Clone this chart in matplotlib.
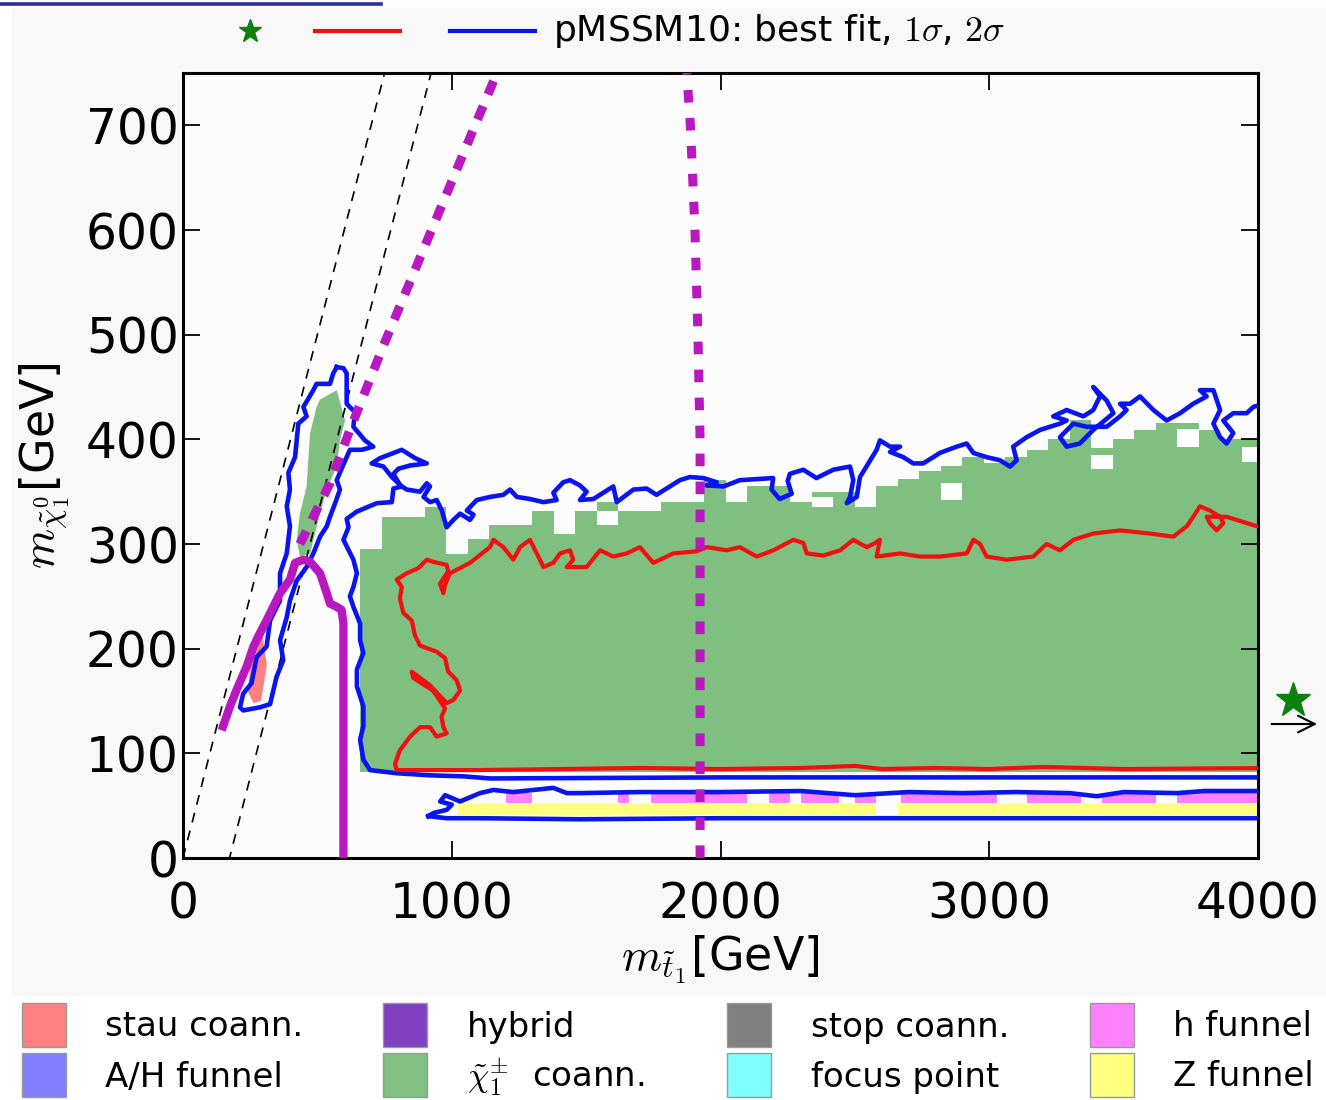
import numpy as np
import matplotlib.pyplot as plt
from matplotlib.patches import Rectangle, Polygon
from matplotlib.lines import Line2D

plt.rcParams['font.family'] = ['DejaVu Sans']
plt.rcParams['mathtext.fontset'] = 'cm'

# chargino coannihilation cells: 80 GeV columns, top edge of each column
green_x0 = np.arange(660, 4000, 80)
green_top = [295, 326, 326, 335, 290, 305, 318, 318, 332, 310, 332, 340, 332, 332,
             340, 340, 361, 340, 355, 355, 340, 350, 350, 335, 355, 362, 370, 375,
             383, 377, 383, 390, 400, 418, 392, 400, 409, 416, 416, 409, 400, 400]
green_bottom = 82
# empty cells inside the green area (x start, y low, y high)
hole_x = [1540, 2820, 3380, 3700, 3940, 2340]
hole_lo = [318, 342, 372, 393, 378, 335]
hole_hi = [332, 358, 385, 410, 393, 345]

# narrow green strip along the stop-neutralino diagonal
strip_x = [510, 572, 603, 584, 572, 535, 510, 485, 473, 435, 423, 435, 460, 466, 473, 497]
strip_y = [438, 447, 418, 399, 374, 352, 329, 304, 291, 288, 304, 329, 355, 380, 406, 431]

# stau coannihilation patch
stau_x = [262, 292, 302, 312, 300, 290, 262, 240, 250, 245]
stau_y = [212, 226, 200, 185, 165, 150, 148, 160, 180, 195]

# h funnel and Z funnel bands
hfun_x0 = [1200, 1620, 1740, 2180, 2300, 2500, 2670, 3140, 3420, 3700]
hfun_x1 = [1300, 1660, 2100, 2260, 2440, 2580, 3030, 3340, 3620, 4000]
zfun_x0 = [1020, 2660]
zfun_x1 = [2580, 4000]

# 2 sigma contour around the diagonal strip
blueA_x = [572, 597, 609, 609, 640, 634, 677, 708, 665, 621, 597, 572, 584, 566, 547, 535,
           510, 485, 460, 423, 398, 386, 361, 373, 348, 324, 287, 224, 212, 224, 255, 274,
           311, 324, 361, 361, 386, 398, 386, 398, 392, 417, 429, 460, 448, 485, 497, 547,
           559, 572]
blueA_y = [469, 468, 463, 434, 426, 412, 399, 393, 390, 390, 376, 361, 352, 339, 326, 317,
           307, 291, 278, 265, 246, 230, 208, 189, 173, 147, 144, 141, 144, 157, 167, 192,
           202, 227, 246, 272, 291, 317, 336, 352, 368, 383, 415, 422, 431, 447, 453, 453,
           463, 469]

# 2 sigma contour of the large region
blueB_x = [4050, 4000, 3000, 2000, 1143, 1043, 919, 795, 696, 671, 659, 671, 671, 647, 647,
           671, 659, 659, 634, 621, 634, 647, 634, 597, 616, 609, 647, 721, 777, 783, 814,
           777, 746, 702, 733, 814, 864, 907, 845, 802, 783, 808, 833, 882, 907, 919, 895,
           919, 944, 963, 981, 1006, 1031, 1068, 1081, 1056, 1093, 1143, 1192, 1217, 1242,
           1291, 1341, 1390, 1378, 1415, 1440, 1477, 1502, 1477, 1527, 1601, 1614, 1676,
           1725, 1762, 1812, 1849, 1886, 1936, 1986, 1948, 2011, 2072, 2196, 2190, 2220,
           2265, 2250, 2258, 2308, 2357, 2420, 2482, 2494, 2482, 2470, 2507, 2519, 2581,
           2593, 2631, 2668, 2631, 2680, 2717, 2754, 2792, 2816, 2879, 2916, 2941, 2990,
           3040, 3077, 3102, 3089, 3139, 3189, 3263, 3288, 3238, 3288, 3350, 3387, 3412,
           3387, 3437, 3462, 3387, 3337, 3288, 3263, 3313, 3362, 3437, 3487, 3511, 3487,
           3524, 3561, 3611, 3660, 3710, 3759, 3809, 3784, 3834, 3859, 3834, 3859, 3883,
           3908, 3871, 3908, 3958, 3983, 4050]
blueB_y = [77, 77, 77, 77, 76, 78, 79, 81, 84, 94, 113, 126, 145, 164, 180,
           196, 208, 224, 240, 250, 259, 272, 285, 304, 316, 324, 331, 339, 340, 353, 355,
           364, 374, 377, 382, 390, 382, 377, 375, 372, 367, 356, 352, 350, 358, 355, 345,
           340, 342, 332, 316, 323, 329, 323, 328, 332, 342, 345, 347, 352, 345,
           343, 340, 342, 349, 359, 361, 356, 350, 342, 343, 355, 340, 352,
           353, 347, 355, 361, 364, 363, 359, 356, 355, 361, 363, 352, 343,
           348, 360, 367, 371, 363, 371, 374, 361, 345, 339, 345, 364, 390,
           399, 393, 393, 388, 383, 377, 377, 383, 387, 393, 396, 387, 383,
           380, 374, 380, 393, 402, 409, 415, 418, 422, 428, 422, 428, 441,
           450, 437, 425, 409, 396, 393, 402, 415, 412, 412, 422, 428, 434,
           434, 441, 428, 418, 425, 434, 441, 447, 447, 428, 415, 402, 396,
           406, 418, 425, 425, 431, 436]

# 2 sigma contour of the low-mass funnel band
blueC_x = [913, 932, 981, 1000, 957, 975, 1031, 1105, 1155, 1229, 1378, 1428, 1477, 1700,
           2000, 2300, 2500, 2700, 2900, 3100, 3300, 3400, 3500, 3700, 3800, 4050,
           4050, 3000, 2000, 1477, 1105, 981, 913]
blueC_y = [40, 43, 46, 51, 54, 60, 54, 62, 65, 63, 67, 62, 62, 63,
           63, 64, 60, 63, 62, 63, 62, 59, 63, 62, 64, 64,
           38, 38, 38, 37, 38, 38, 40]

# 1 sigma contour
red_x = [4050, 3995, 3958, 3883, 3809, 3821, 3846, 3871, 3859, 3821, 3784, 3759, 3735, 3685,
         3598, 3486, 3387, 3313, 3263, 3213, 3164, 3065, 2990, 2966, 2941, 2916, 2816, 2742,
         2668, 2581, 2593, 2569, 2544, 2494, 2445, 2383, 2321, 2308, 2271, 2197, 2135, 2072,
         2023, 1949, 1911, 1824, 1800, 1750, 1700, 1651, 1601, 1552, 1502, 1428, 1452, 1440,
         1403, 1378, 1341, 1328, 1291, 1254, 1229, 1192, 1155, 1142, 1068, 993, 975, 969,
         956, 987, 981, 931, 907, 876, 832, 795, 814, 807, 820, 851, 863, 882, 944, 975,
         987, 1018, 1031, 1006, 981, 919, 851, 857, 930, 975, 962, 969, 981, 944, 919, 882,
         845, 807, 789, 795, 919, 1105, 1400, 1700, 2000, 2300, 2500, 2600, 2800, 3000,
         3200, 3500, 4050]
red_y = [315, 317, 320, 326, 326, 320, 313, 320, 326, 332, 336, 326, 317, 307,
         310, 313, 310, 304, 294, 300, 288, 285, 288, 300, 304, 291, 288, 288,
         291, 288, 304, 300, 297, 304, 294, 289, 291, 301, 304, 294, 288, 297,
         294, 297, 293, 291, 288, 282, 297, 291, 288, 294, 278, 278, 285, 294,
         291, 282, 278, 285, 304, 297, 285, 297, 304, 297, 282, 272, 261, 253,
         262, 274, 280, 283, 285, 277, 272, 266, 259, 248, 234, 227, 213, 203, 197, 191,
         178, 170, 160, 151, 148, 165, 178, 172, 160, 143, 135, 125, 119, 116, 125, 125,
         116, 103, 90, 84, 84, 84, 85, 86, 85, 86, 88, 85, 86, 85,
         87, 85, 86]

# magenta constraint lines
mag_solid_x = [144, 175, 200, 237, 262, 299, 336, 361, 398, 417, 448, 473, 510, 535, 547,
               572, 590, 597, 597]
mag_solid_y = [122, 145, 161, 183, 202, 221, 240, 253, 266, 282, 285, 283, 272, 253, 243,
               240, 237, 224, 0]
mag_diag_x = [435, 547, 621, 745, 1168, 1200]
mag_diag_y = [300, 358, 409, 489, 750, 770]
mag_vert_x = [1924, 1924, 1916, 1905, 1888, 1872]
mag_vert_y = [0, 400, 500, 600, 700, 760]

# kinematic lines m_stop = m_chi + offset
kin_offset = [0, 173]

# best fit point (beyond the plotted range)
best_x, best_y = 4130, 151

legend_labels = ['stau coann.', 'A/H funnel', 'hybrid', r'$\tilde{\chi}_1^{\pm}$  coann.',
                 'stop coann.', 'focus point', 'h funnel', 'Z funnel']
legend_colors = ['#ff8080', '#8080ff', '#8040c0', '#80c080',
                 '#808080', '#80ffff', '#ff80ff', '#ffff80']

W, H = 1326, 1100
fig = plt.figure(figsize=(W / 100, H / 100), dpi=100)
fig.patch.set_facecolor('white')
fig.add_artist(Rectangle((12 / W, 1 - 995 / H), 1 - 12 / W, (995 - 8) / H,
                         transform=fig.transFigure, color='#f8f8f8', zorder=-10))
fig.add_artist(Line2D([0, 381 / W], [1 - 3.5 / H] * 2, color='#2d3092', lw=2.6))

ax = fig.add_axes([183 / W, 242 / H, 1075 / W, 785 / H])
ax.set_facecolor('#fcfcfc')

green = '#7fbf7f'
ax.bar(green_x0, np.array(green_top) - green_bottom, bottom=green_bottom, width=80,
       align='edge', color=green, linewidth=0, zorder=1)
ax.bar(hole_x, np.array(hole_hi) - np.array(hole_lo), bottom=hole_lo, width=80,
       align='edge', color='white', linewidth=0, zorder=1.1)
ax.add_patch(Polygon(np.column_stack([strip_x, strip_y]), closed=True, color=green,
                     lw=0, zorder=1))
ax.add_patch(Polygon(np.column_stack([stau_x, stau_y]), closed=True, color='#ff8080',
                     lw=0, zorder=1.2))
ax.bar(hfun_x0, 9, bottom=53, width=np.array(hfun_x1) - np.array(hfun_x0), align='edge',
       color='#ff80ff', linewidth=0, zorder=1)
ax.bar(zfun_x0, 12, bottom=41, width=np.array(zfun_x1) - np.array(zfun_x0), align='edge',
       color='#ffff80', linewidth=0, zorder=1)

xs = np.array([0, 1000])
for off in kin_offset:
    ax.plot(xs, xs - off, color='black', lw=1.2, dashes=(6, 5), zorder=3)

blue = '#0a14f0'
ax.plot(blueA_x, blueA_y, color=blue, lw=3.3, zorder=4)
ax.plot(blueB_x, blueB_y, color=blue, lw=3.3, zorder=4)
ax.plot(blueC_x, blueC_y, color=blue, lw=3.3, zorder=4)
ax.plot(red_x, red_y, color='#f01010', lw=3.0, zorder=4.5)

mag = '#b818c0'
ax.plot(mag_solid_x, mag_solid_y, color=mag, lw=6, zorder=5, solid_capstyle='butt')
ax.plot(mag_diag_x, mag_diag_y, color=mag, lw=6.5, dashes=(1.6, 1.4), zorder=5,
        dash_capstyle='butt')
ax.plot(mag_vert_x, mag_vert_y, color=mag, lw=6.5, dashes=(1.4, 1.7), zorder=5,
        dash_capstyle='butt')

ax.plot([best_x], [best_y], marker='*', ms=26, color='#0d800d', clip_on=False, zorder=6)
ax.annotate('', xy=(4230, 128), xytext=(4040, 128), annotation_clip=False,
            arrowprops=dict(arrowstyle='->', color='black', lw=1.5, mutation_scale=30))

ax.set_xlim(0, 4000)
ax.set_ylim(0, 750)
ax.set_xticks([0, 1000, 2000, 3000, 4000])
ax.set_yticks([0, 100, 200, 300, 400, 500, 600, 700])
ax.tick_params(direction='in', length=12, width=1.3, top=True, right=True,
               labelsize=35)
ax.tick_params(axis='x', pad=16)
ax.tick_params(axis='y', pad=3)
for s in ax.spines.values():
    s.set_linewidth(2.2)
ax.set_xlabel(r'$m_{\tilde{t}_1}$[GeV]', fontsize=33, labelpad=4)
ax.set_ylabel(r'$m_{\tilde{\chi}^0_1}$[GeV]', fontsize=33, labelpad=10)

# top legend
fy = lambda py: 1 - py / H
fx = lambda px: px / W
fig.add_artist(Line2D([fx(250)], [fy(31)], marker='*', ms=17, color='#0d800d', lw=0))
fig.add_artist(Line2D([fx(315), fx(400)], [fy(31)] * 2, color='#f01010', lw=3))
fig.add_artist(Line2D([fx(450), fx(535)], [fy(31)] * 2, color=blue, lw=3))
fig.text(fx(553), fy(31), r'pMSSM10: best fit, $1\sigma$, $2\sigma$', fontsize=26,
         va='center', ha='left')

# bottom legend
col_patch = [22, 383, 727, 1090]
col_text = [105, 467, 811, 1173]
row_top = [1003, 1053]
for i, (lab, c) in enumerate(zip(legend_labels, legend_colors)):
    col, row = i // 2, i % 2
    fig.add_artist(Rectangle((fx(col_patch[col]), fy(row_top[row] + 44)), 44 / W, 44 / H,
                             transform=fig.transFigure, facecolor=c, edgecolor='#999999',
                             lw=1))
    fig.text(fx(col_text[col]), fy(row_top[row] + 24), lab, fontsize=24.5, va='center',
             ha='left')

fig.savefig('out.png', dpi=100, facecolor=fig.get_facecolor())
